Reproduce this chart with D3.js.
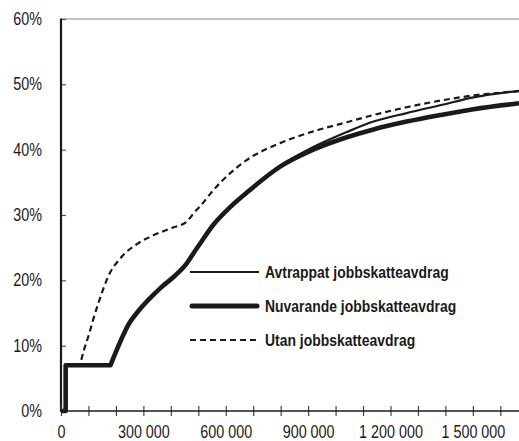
<!DOCTYPE html>
<html>
<head>
<meta charset="utf-8">
<script src="https://cdn.jsdelivr.net/npm/d3@7"></script>
<style>
  html, body { margin: 0; padding: 0; background: #fff; }
  svg { display: block; }
  text { font-family: "Liberation Sans", Arial, sans-serif; fill: #1a1a1a; }
</style>
</head>
<body>
<svg id="chart" width="519" height="441"></svg>
<script>
// Income (SEK) and average tax rate (%) for the three systems
const incomeNuvarande = [0, 17000, 17000, 180000, 221000, 245000, 276000, 318000, 367000, 415000, 458000, 488000, 506000, 555000, 616000, 676000, 798000, 919000, 1041000, 1138000, 1259000, 1381000, 1502000, 1668000];
const rateNuvarande   = [0, 0, 7.0, 7.0, 11.1, 13.2, 15.0, 17.0, 19.0, 20.7, 22.6, 24.5, 25.6, 28.5, 31.2, 33.4, 37.4, 40.0, 41.9, 43.1, 44.3, 45.3, 46.2, 47.1];

const incomeAvtrappat = [0, 17000, 17000, 180000, 221000, 245000, 276000, 318000, 367000, 415000, 458000, 488000, 506000, 555000, 616000, 676000, 798000, 919000, 1041000, 1138000, 1259000, 1381000, 1502000, 1668000];
const rateAvtrappat   = [0, 0, 7.0, 7.0, 11.1, 13.2, 15.0, 17.0, 19.0, 20.7, 22.6, 24.5, 25.6, 28.5, 31.2, 33.4, 37.5, 40.4, 42.7, 44.3, 45.6, 46.8, 48.0, 49.0];

const incomeUtan = [0, 17000, 17000, 69000, 84000, 99500, 118000, 136000, 154000, 172000, 221000, 282000, 342000, 403000, 458000, 488000, 506000, 555000, 616000, 676000, 798000, 919000, 1041000, 1138000, 1259000, 1381000, 1502000, 1668000];
const rateUtan   = [0, 0, 7.0, 7.0, 9.4, 11.4, 14.1, 16.5, 18.7, 20.6, 23.6, 25.7, 27.0, 28.0, 29.0, 30.5, 31.3, 33.8, 36.4, 38.4, 41.0, 42.8, 44.2, 45.3, 46.5, 47.5, 48.3, 48.95];

const yTicks = [0, 10, 20, 30, 40, 50, 60];
const xTicks = d3.range(0, 1600001, 100000);
const xLabelled = [0, 300000, 600000, 900000, 1200000, 1500000];

const legendLabels = ["Avtrappat jobbskatteavdrag", "Nuvarande jobbskatteavdrag", "Utan jobbskatteavdrag"];

const svg = d3.select("#chart");
const plotLeft = 61, plotRight = 519, plotTop = 19, plotBottom = 411;
const narrow = 0.82; // horizontal squeeze giving a condensed face

const x = d3.scaleLinear().domain([0, 1668000]).range([plotLeft, plotRight]);
const y = d3.scaleLinear().domain([0, 60]).range([plotBottom, plotTop]);

const fmtNum = d3.formatLocale({ decimal: ",", thousands: " ", grouping: [3], currency: ["", ""] }).format(",d");

// Top frame line
svg.append("line")
  .attr("x1", plotLeft).attr("x2", plotRight)
  .attr("y1", y(60)).attr("y2", y(60))
  .attr("stroke", "#8a8a8a").attr("stroke-width", 1.2);

// Y axis
const yAxis = svg.append("g")
  .attr("transform", `translate(${plotLeft},0)`)
  .call(d3.axisLeft(y).tickValues(yTicks).tickSize(-5).tickPadding(19).tickFormat(d => d + "%"));
yAxis.select(".domain").remove();
yAxis.selectAll(".tick line").attr("stroke", "#555").attr("stroke-width", 1.2);
yAxis.selectAll("text")
  .style("font-size", "17.5px").attr("fill", "#1a1a1a")
  .attr("x", -19 / narrow).attr("transform", `scale(${narrow},1)`);
svg.append("line")
  .attr("x1", plotLeft).attr("x2", plotLeft)
  .attr("y1", y(60) - 0.5).attr("y2", plotBottom + 1)
  .attr("stroke", "#1a1a1a").attr("stroke-width", 2.2);

// X axis
const xAxis = svg.append("g")
  .attr("transform", `translate(0,${plotBottom})`)
  .call(d3.axisBottom(x).tickValues(xTicks).tickSize(5).tickPadding(10)
    .tickFormat(d => xLabelled.includes(d) ? fmtNum(d) : ""));
xAxis.select(".domain").remove();
xAxis.selectAll(".tick line").attr("y1", -5).attr("stroke", "#444").attr("stroke-width", 1.2);
xAxis.selectAll("text")
  .style("font-size", "17.5px").attr("fill", "#1a1a1a")
  .attr("transform", `scale(${narrow},1)`);
svg.append("line")
  .attr("x1", plotLeft).attr("x2", plotRight)
  .attr("y1", plotBottom).attr("y2", plotBottom)
  .attr("stroke", "#1a1a1a").attr("stroke-width", 1.6);

// Series: straight segments for the step, smooth curve from the corner on
svg.append("clipPath").attr("id", "plot-clip")
  .append("rect").attr("x", plotLeft).attr("y", 0)
  .attr("width", plotRight - plotLeft).attr("height", plotBottom + 3);

const linear = d3.line().x(d => x(d[0])).y(d => y(d[1])).curve(d3.curveLinear);
const smooth = d3.line().x(d => x(d[0])).y(d => y(d[1])).curve(d3.curveMonotoneX);
const zip = (a, b) => a.map((v, i) => [v, b[i]]);
const pathFor = data => linear(data.slice(0, 4)) + smooth(data.slice(3)).replace(/^M/, "L");

const series = [
  { data: zip(incomeUtan, rateUtan), width: 2.2, dash: "6,4" },
  { data: zip(incomeAvtrappat, rateAvtrappat), width: 2.2, dash: null },
  { data: zip(incomeNuvarande, rateNuvarande), width: 4.6, dash: null }
];

const plot = svg.append("g").attr("clip-path", "url(#plot-clip)");
series.forEach(s => {
  plot.append("path")
    .attr("d", pathFor(s.data))
    .attr("fill", "none")
    .attr("stroke", "#1a1a1a")
    .attr("stroke-width", s.width)
    .attr("stroke-linejoin", "round")
    .attr("stroke-dasharray", s.dash);
});

// Legend
const legendItems = [
  { label: legendLabels[0], width: 2.2, dash: null, cap: "butt" },
  { label: legendLabels[1], width: 5, dash: null, cap: "round" },
  { label: legendLabels[2], width: 2.2, dash: "6,4", cap: "butt" }
];
const legend = svg.append("g").attr("transform", "translate(190,272)");
legendItems.forEach((d, i) => {
  const g = legend.append("g").attr("transform", `translate(0,${i * 34})`);
  g.append("line")
    .attr("x1", d.cap === "round" ? 2 : 0).attr("x2", d.cap === "round" ? 67 : 69)
    .attr("y1", 0).attr("y2", 0)
    .attr("stroke", "#1a1a1a")
    .attr("stroke-width", d.width)
    .attr("stroke-linecap", d.cap)
    .attr("stroke-dasharray", d.dash);
  g.append("text")
    .attr("transform", `translate(75,0) scale(${narrow},1)`)
    .attr("dy", "0.35em")
    .style("font-size", "17px").style("font-weight", "bold")
    .text(d.label);
});
</script>
</body>
</html>
